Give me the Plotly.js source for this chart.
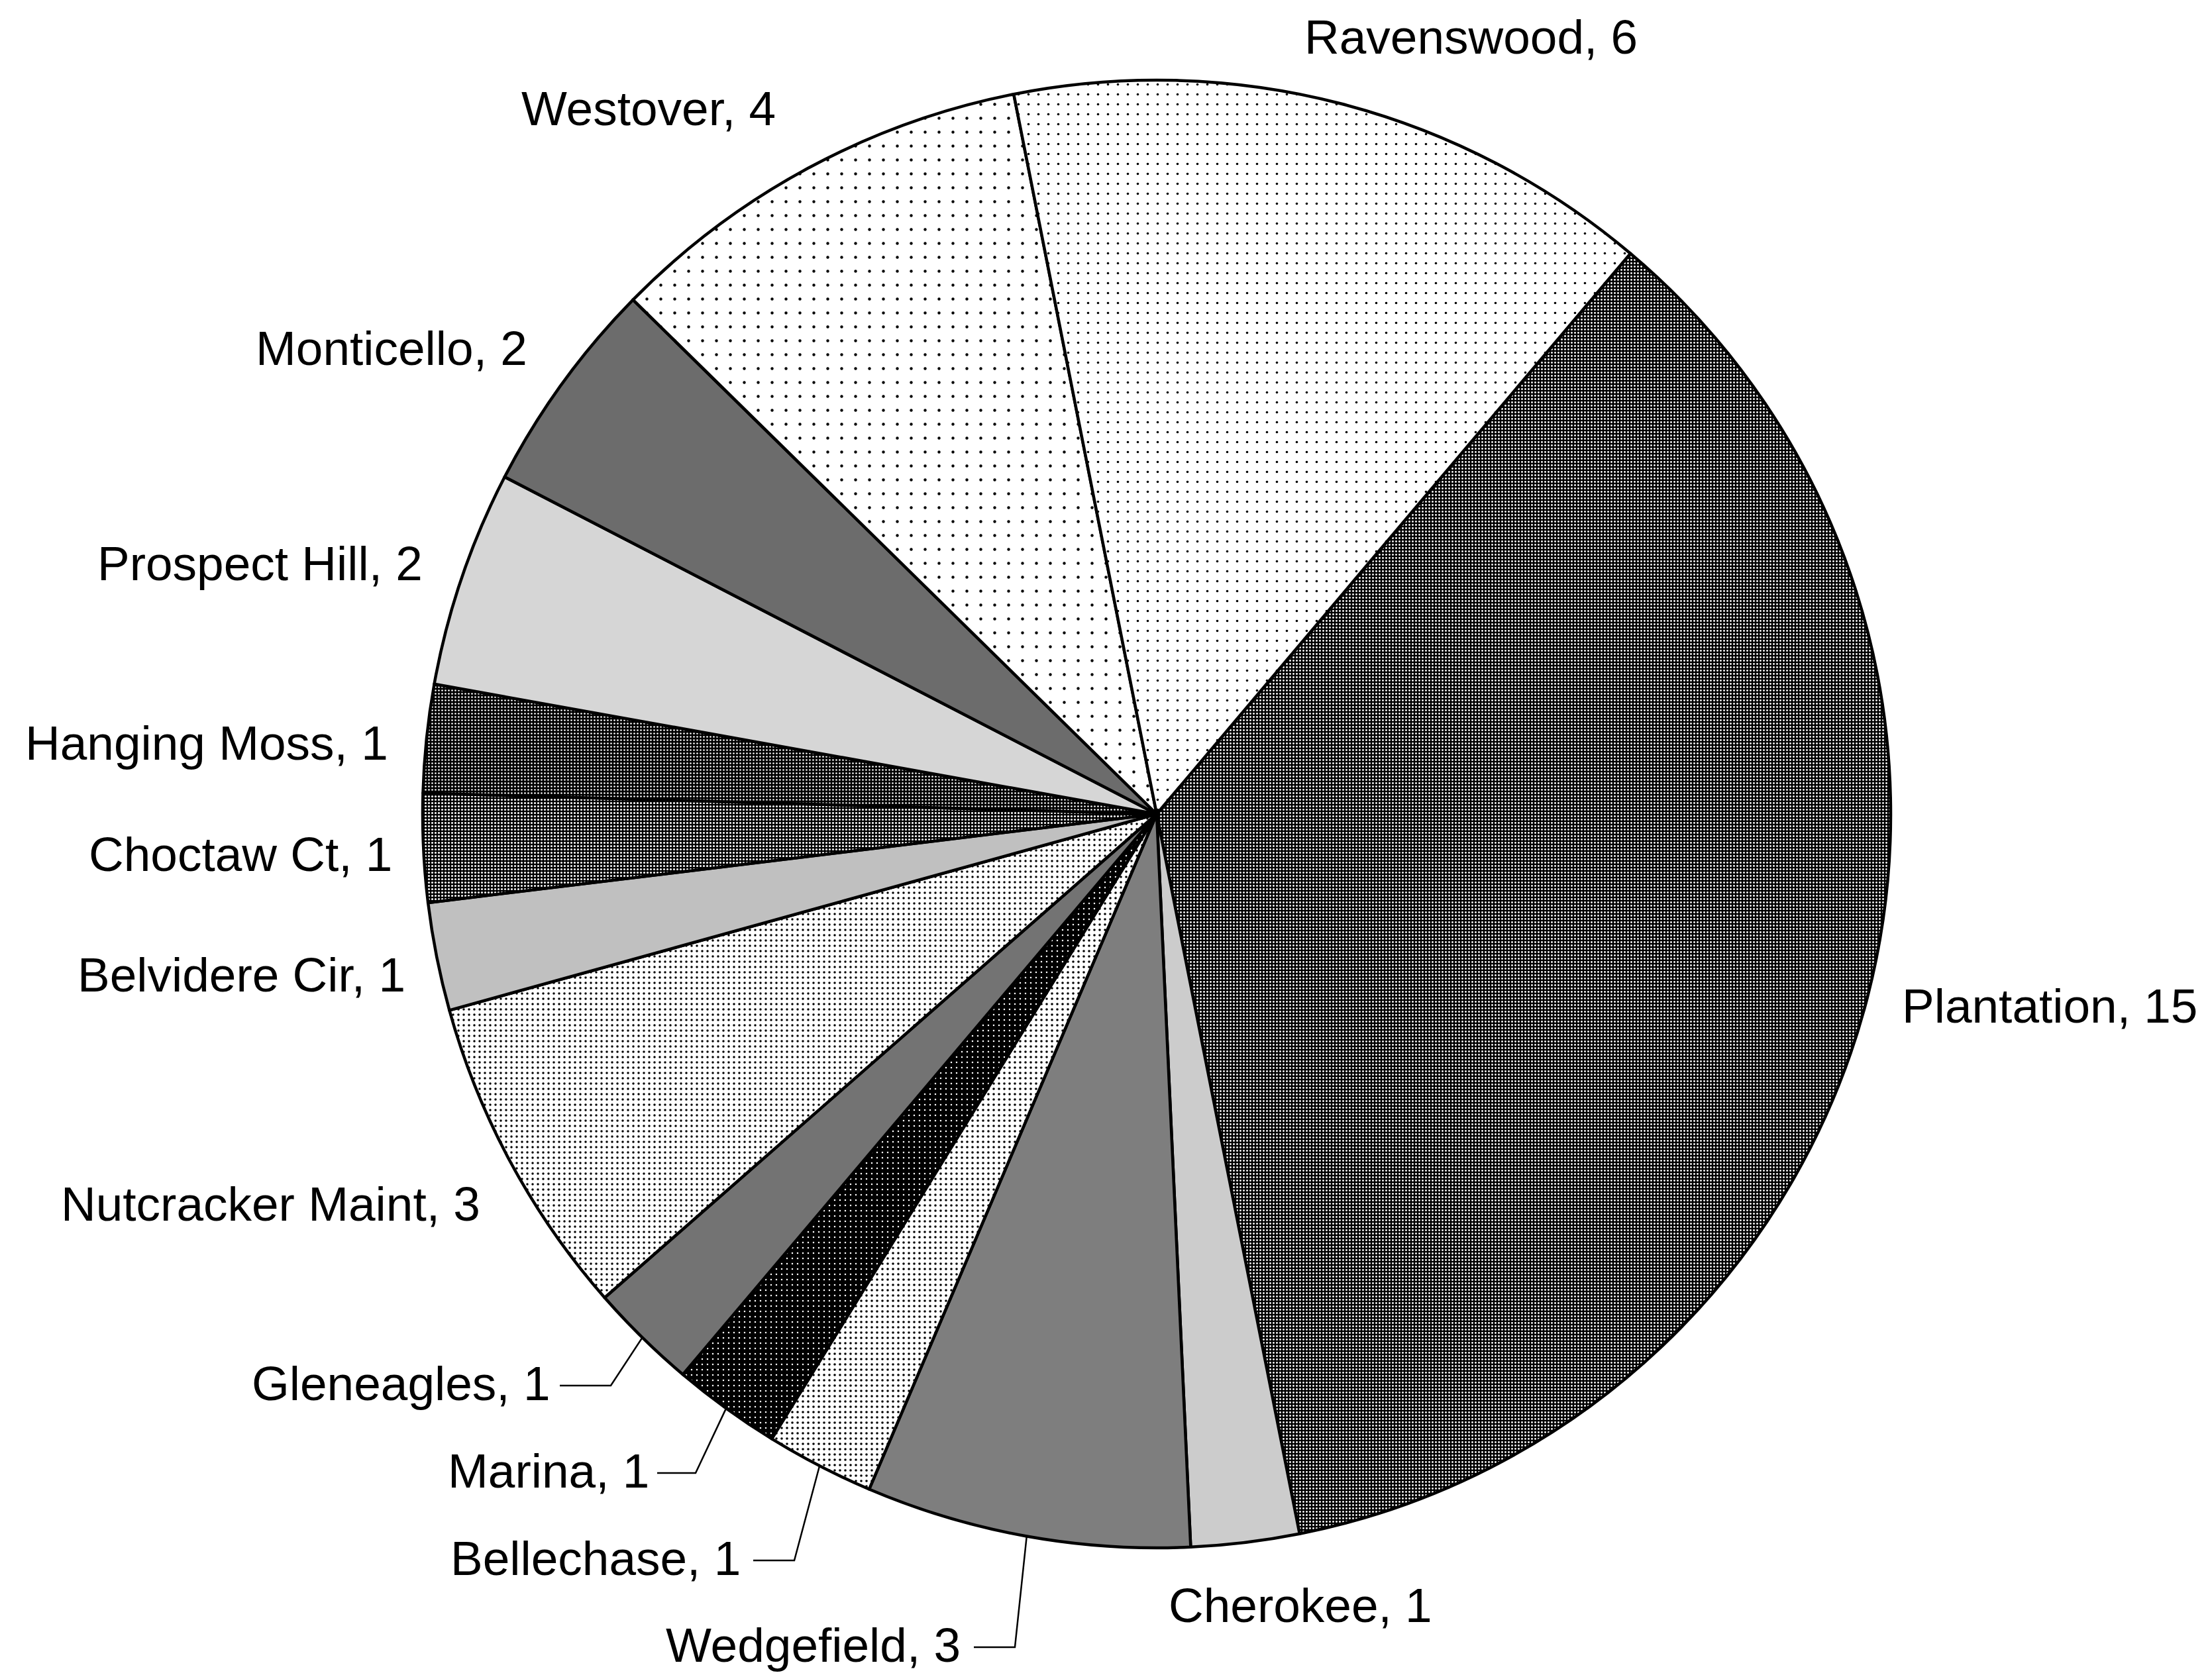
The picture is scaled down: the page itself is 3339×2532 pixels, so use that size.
<!DOCTYPE html>
<html>
<head>
<meta charset="utf-8">
<script src="https://cdn.plot.ly/plotly-3.0.1.min.js"></script>
<style>
  html, body { margin: 0; padding: 0; background: #ffffff; }
  #chart { width: 3339px; height: 2532px; }
</style>
</head>
<body>
<div id="chart"></div>
<script>
// ---- data ----
const categories = ["Plantation", "Cherokee", "Wedgefield", "Bellechase", "Marina", "Gleneagles",
  "Nutcracker Maint", "Belvidere Cir", "Choctaw Ct", "Hanging Moss", "Prospect Hill",
  "Monticello", "Westover", "Ravenswood"];
const counts = [15, 1, 3, 1, 1, 1, 3, 1, 1, 1, 2, 2, 4, 6];

// ---- styles ----
const bgColors = ["#000000", "#cccccc", "#7e7e7e", "#ffffff", "#000000", "#737373",
  "#ffffff", "#c0c0c0", "#000000", "#000000", "#d6d6d6", "#6c6c6c", "#ffffff", "#ffffff"];
const fgColors = ["#ffffff", "#cccccc", "#7e7e7e", "#000000", "#ffffff", "#737373",
  "#000000", "#c0c0c0", "#ffffff", "#ffffff", "#d6d6d6", "#6c6c6c", "#000000", "#000000"];
const patShapes = [".", "", "", ".", ".", "", ".", "", ".", ".", "", "", ".", "."];
const patSizes = [5, 8, 8, 8, 8, 8, 8, 8, 5, 5, 8, 8, 21, 15];
const patSolid = [0.26, 0.3, 0.3, 0.16, 0.08, 0.3, 0.15, 0.3, 0.3, 0.22, 0.3, 0.3, 0.035, 0.045];

// layout geometry (pixels)
const W = 3339, H = 2532;
const cx = 1746, cy = 1229, R = 1108;
const mL = cx - R, mT = cy - R, mR = W - (cx + R), mB = H - (cy + R);
const startRotation = 40.2;

// label positions: left x, center y (pixels)
const labelPos = [[2869, 1518], [1762, 2423], [1003, 2483], [678, 2352], [674, 2220], [378, 2088],
  [90, 1817], [115, 1471], [132, 1290], [36, 1121], [145, 850], [384, 526], [785, 163], [1967, 55]];
// leader lines: index -> [start x, elbow x]
const leaders = {2: [1470, 1532], 3: [1137, 1199], 4: [992, 1050], 5: [845, 922]};

const px2x = p => (p - mL) / (2 * R);
const py2y = p => 1 - (p - mT) / (2 * R);

const total = counts.reduce((a, b) => a + b, 0);
let cum = 0;
const midAngles = counts.map(v => { const m = startRotation + (cum + v / 2) / total * 360; cum += v; return m; });

const annotations = categories.map((c, i) => ({
  x: px2x(labelPos[i][0]), y: py2y(labelPos[i][1]), xref: 'paper', yref: 'paper',
  text: c + ', ' + counts[i], showarrow: false, xanchor: 'left', yanchor: 'middle',
  font: {family: 'Liberation Sans, Arial, sans-serif', size: 73, color: '#000000'}
}));

const shapes = Object.keys(leaders).map(k => {
  const i = +k;
  const a = midAngles[i] * Math.PI / 180;
  const ex = cx + R * Math.sin(a), ey = cy - R * Math.cos(a);
  const y = labelPos[i][1] + 4;
  const [sx, bx] = leaders[i];
  return {
    type: 'path', xref: 'paper', yref: 'paper',
    path: 'M ' + px2x(sx) + ' ' + py2y(y) + ' L ' + px2x(bx) + ' ' + py2y(y) + ' L ' + px2x(ex) + ' ' + py2y(ey),
    line: {color: '#000000', width: 2.5}
  };
});

const trace = {
  type: 'pie',
  labels: categories,
  values: counts,
  sort: false,
  direction: 'clockwise',
  rotation: startRotation,
  textinfo: 'none',
  textposition: 'none',
  hoverinfo: 'label+value',
  domain: {x: [0, 1], y: [0, 1]},
  marker: {
    colors: bgColors,
    line: {color: '#000000', width: 4.5},
    pattern: {shape: patShapes, bgcolor: bgColors, fgcolor: fgColors, size: patSizes, solidity: patSolid, fillmode: 'replace'}
  }
};

const layout = {
  width: W, height: H,
  margin: {l: mL, r: mR, t: mT, b: mB, pad: 0},
  paper_bgcolor: '#ffffff', plot_bgcolor: '#ffffff',
  showlegend: false,
  annotations: annotations,
  shapes: shapes
};

Plotly.newPlot('chart', [trace], layout, {staticPlot: true, displayModeBar: false});
</script>
</body>
</html>
